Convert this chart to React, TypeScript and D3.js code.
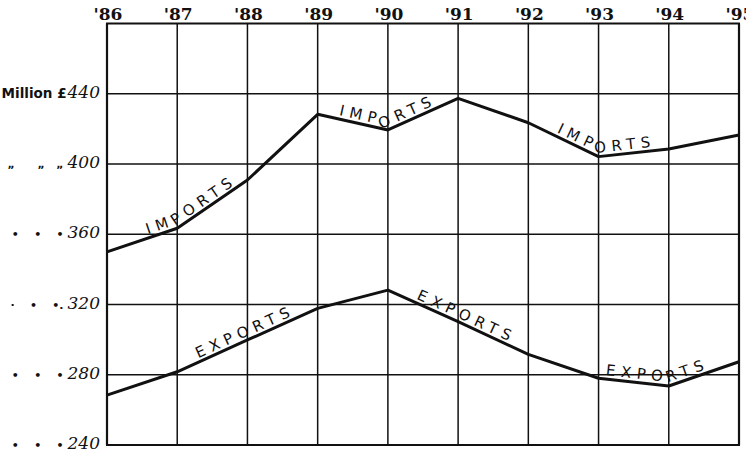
import React from "react";
import * as d3 from "d3";

const years = [1886, 1887, 1888, 1889, 1890, 1891, 1892, 1893, 1894, 1895];
const yearLabels = ["'86", "'87", "'88", "'89", "'90", "'91", "'92", "'93", "'94", "'95"];
const imports = [350, 363.4, 390.9, 428.3, 419.4, 437.4, 423.5, 404.2, 408.5, 416.5];
const exportsV = [268.4, 281.7, 299.8, 317.8, 328.2, 310.2, 291.6, 278, 273.6, 287.4];
const yTicks = [240, 280, 320, 360, 400, 440, 480];
const yLabelTicks = [240, 280, 320, 360, 400, 440];
const yLabelPrefixes = ["•    •    •", "•    •    •", "·    •    •.", "•    •    •", "„      „   „", "Million £"];
const importLabelStarts = [1886.58, 1889.3, 1892.4];
const exportLabelStarts = [1887.3, 1890.4, 1893.1];

const W = 746, H = 450;
const x = d3.scaleLinear().domain([1886, 1895]).range([107, 739]);
const y = d3.scaleLinear().domain([240, 480]).range([445, 23.5]);

function pts(vals: number[], dy = 0): [number, number][] {
  return vals.map((v, i) => [x(years[i]), y(v) + dy]);
}

function offsetAt(p: [number, number][], xs: number) {
  let len = 0;
  for (let i = 1; i < p.length; i++) {
    const [x0, y0] = p[i - 1];
    const [x1, y1] = p[i];
    if (xs <= x1) {
      const t = (xs - x0) / (x1 - x0);
      return len + Math.hypot(x1 - x0, y1 - y0) * t;
    }
    len += Math.hypot(x1 - x0, y1 - y0);
  }
  return len;
}

const line = d3.line<[number, number]>();

export default function App() {
  const series = [
    { id: "imp", vals: imports, name: "IMPORTS", starts: importLabelStarts },
    { id: "exp", vals: exportsV, name: "EXPORTS", starts: exportLabelStarts },
  ];
  return (
    <svg width={W} height={H} style={{ position: "absolute", left: 0, top: 0, background: "#fff" }}>
      <defs>
        {series.map((s) => (
          <path key={s.id} id={`tp-${s.id}`} d={line(pts(s.vals, -4)) || ""} fill="none" />
        ))}
      </defs>
      {/* grid */}
      {years.map((yr, i) => (
        <line key={yr} x1={x(yr)} x2={x(yr)} y1={y(480)} y2={y(240)} stroke="#111"
          strokeWidth={i === 0 || i === years.length - 1 ? 2.2 : 1.5} />
      ))}
      {yTicks.map((t) => (
        <line key={t} x1={x(1886) - 1} x2={x(1895) + 1} y1={y(t)} y2={y(t)} stroke="#111"
          strokeWidth={t === 480 || t === 240 ? 2.2 : 1.5} />
      ))}
      {/* year labels */}
      {years.map((yr, i) => (
        <text key={yr} x={x(yr) + 1} y={20} textAnchor="middle" fontFamily="DejaVu Serif"
          fontWeight="bold" fontSize={17} fill="#111">{yearLabels[i]}</text>
      ))}
      {/* y labels */}
      {yLabelTicks.map((t, i) => (
        <text key={t} x={100} y={y(t) + 4} textAnchor="end" fontFamily="DejaVu Serif" fontStyle="italic"
          fontSize={17} fill="#111" style={{ whiteSpace: "pre" }}>
          <tspan fontSize={t === 440 ? 13.5 : 11} fontWeight="bold" fontStyle="normal" fontFamily="DejaVu Sans">
            {yLabelPrefixes[i]}
          </tspan>
          <tspan dx={t === 440 ? 1 : 4}>{t}</tspan>
        </text>
      ))}
      {/* series lines */}
      {series.map((s) => (
        <path key={s.id} d={line(pts(s.vals)) || ""} fill="none" stroke="#111" strokeWidth={3}
          strokeLinejoin="round" />
      ))}
      {/* labels along the lines */}
      {series.map((s) =>
        s.starts.map((st, k) => (
          <text key={s.id + k} fontFamily="DejaVu Sans" fontSize={15} letterSpacing={5.5} fill="#111">
            <textPath href={`#tp-${s.id}`} startOffset={offsetAt(pts(s.vals, -4), x(st))}>
              {s.name}
            </textPath>
          </text>
        ))
      )}
    </svg>
  );
}
